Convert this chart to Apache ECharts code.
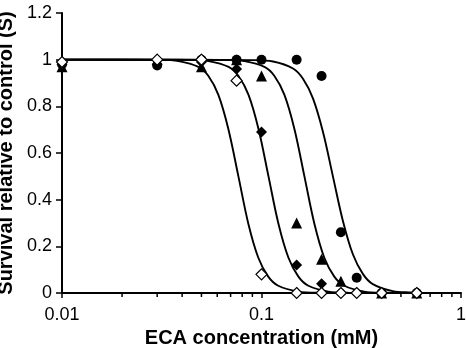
<!DOCTYPE html>
<html>
<head>
<meta charset="utf-8">
<script src="https://cdn.jsdelivr.net/npm/echarts@6/dist/echarts.min.js"></script>
<style>
  html, body { margin: 0; padding: 0; background: #fff; }
  #chart { width: 466px; height: 348px; }
</style>
</head>
<body>
<div id="chart"></div>
<script>
// ECA concentration (mM)
const conc = [0.01, 0.03, 0.05, 0.075, 0.1, 0.15, 0.2, 0.25, 0.3, 0.4, 0.6]

const openDiamond = [0.99, 1.0, 1.0, 0.91, 0.08, 0, 0, 0, 0, 0, 0]
const filledDiamond = [0.98, 0.98, 0.99, 0.96, 0.69, 0.12, 0.04, null, null, 0, 0]
const triangle = [0.97, null, 0.97, 1.0, 0.93, 0.30, 0.145, 0.05, null, 0, 0]
const circle = [0.98, 0.975, 1.0, 1.0, 1.0, 1.0, 0.93, 0.26, 0.065, 0, 0]

// fitted curves: [conc, survival]
const fit1 = [[0.01, 1], [0.0305, 0.999], [0.0384, 0.994], [0.0483, 0.969], [0.0542, 0.93],
  [0.0608, 0.849], [0.0682, 0.703], [0.0766, 0.5], [0.0859, 0.297], [0.0964, 0.151],
  [0.1081, 0.07], [0.1213, 0.031], [0.1528, 0.006], [0.1923, 0.001], [0.6, 0]]
const fit2 = [[0.01, 1], [0.0432, 0.999], [0.0543, 0.994], [0.0684, 0.969], [0.0767, 0.93],
  [0.0861, 0.849], [0.0966, 0.703], [0.1084, 0.5], [0.1216, 0.297], [0.1365, 0.151],
  [0.1531, 0.07], [0.1718, 0.031], [0.2163, 0.006], [0.2723, 0.001], [0.6, 0]]
const fit3 = [[0.01, 1], [0.0653, 0.999], [0.0822, 0.994], [0.1035, 0.969], [0.1161, 0.93],
  [0.1303, 0.849], [0.1462, 0.703], [0.1641, 0.5], [0.1841, 0.297], [0.2065, 0.151],
  [0.2317, 0.07], [0.26, 0.031], [0.3273, 0.006], [0.4121, 0.001], [0.6, 0]]
const fit4 = [[0.01, 1], [0.0908, 0.998], [0.1143, 0.992], [0.1439, 0.962], [0.1614, 0.918],
  [0.1811, 0.834], [0.2032, 0.691], [0.228, 0.5], [0.2559, 0.309], [0.2871, 0.166],
  [0.3221, 0.082], [0.3614, 0.038], [0.455, 0.008], [0.5728, 0.002], [0.6, 0]]

// log minor ticks on the x axis
const minorTicks = [0.02, 0.03, 0.04, 0.05, 0.06, 0.07, 0.08, 0.09,
  0.2, 0.3, 0.4, 0.5, 0.6, 0.7, 0.8, 0.9]

const font = '"Liberation Sans", Arial, sans-serif'

const pts = (ys) => conc.map((x, i) => [x, ys[i]]).filter((p) => p[1] !== null)

const fitLine = (data) => ({
  type: 'line',
  data: data,
  smooth: 0.35,
  showSymbol: false,
  silent: true,
  lineStyle: { color: '#000', width: 1.9 },
  z: 2
})

const marks = (data, symbol, size, fill) => ({
  type: 'scatter',
  data: pts(data),
  symbol: symbol,
  symbolSize: size,
  clip: false,
  itemStyle: { color: fill, opacity: 1, borderColor: '#000', borderWidth: fill === '#fff' ? 1.2 : 0 },
  z: 5
})

const chart = echarts.init(document.getElementById('chart'))
chart.setOption({
  animation: false,
  grid: { left: 62, right: 5, top: 13, bottom: 55, outerBoundsMode: 'none' },
  xAxis: {
    type: 'log',
    logBase: 10,
    min: 0.01,
    max: 1,
    name: 'ECA concentration (mM)',
    nameLocation: 'middle',
    nameGap: 34,
    nameTextStyle: { color: '#000', fontFamily: font, fontSize: 20, fontWeight: 'bold' },
    axisLine: { lineStyle: { color: '#000', width: 2 } },
    axisTick: { show: true, length: 5, lineStyle: { color: '#000', width: 1.5 } },
    axisLabel: { color: '#000', fontFamily: font, fontSize: 18, margin: 13 },
    splitLine: { show: false }
  },
  yAxis: {
    type: 'value',
    min: 0,
    max: 1.2,
    interval: 0.2,
    name: 'Survival relative to control (S)',
    nameLocation: 'middle',
    nameGap: 37,
    nameTextStyle: { color: '#000', fontFamily: font, fontSize: 20, fontWeight: 'bold' },
    axisLine: { show: true, lineStyle: { color: '#000', width: 2 } },
    axisTick: { show: true, length: 6, lineStyle: { color: '#000', width: 1.5 } },
    axisLabel: { color: '#000', fontFamily: font, fontSize: 18, margin: 10 },
    splitLine: { show: false }
  },
  series: [
    fitLine(fit1),
    fitLine(fit2),
    fitLine(fit3),
    fitLine(fit4),
    {
      type: 'scatter',
      data: minorTicks.map((x) => [x, 0]),
      symbol: 'rect',
      symbolSize: [1.5, 4],
      symbolOffset: [0, 2],
      clip: false,
      silent: true,
      itemStyle: { color: '#000', opacity: 1 },
      z: 1
    },
    marks(circle, 'circle', 10, '#000'),
    marks(triangle, 'triangle', 11, '#000'),
    marks(filledDiamond, 'diamond', 11, '#000'),
    marks(openDiamond, 'diamond', 11, '#fff')
  ]
})
</script>
</body>
</html>
